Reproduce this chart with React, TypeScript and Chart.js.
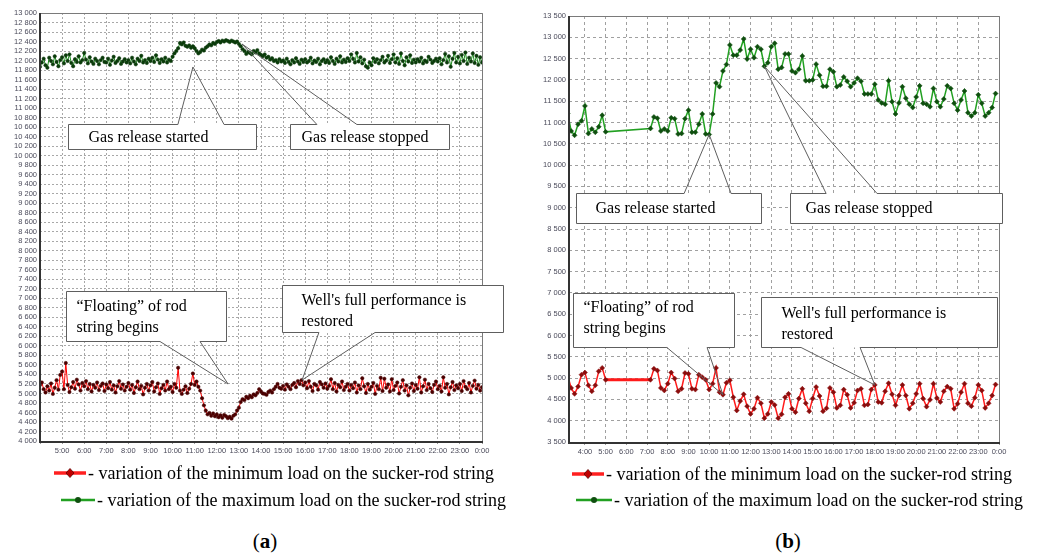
import React, { useEffect, useRef } from 'react';
import { Chart, registerables } from 'chart.js';

Chart.register(...registerables);

// ---------- Panel (a): samples every 5 minutes, 4:00 – 24:00 ----------
const A_START_HOUR = 4;
const A_STEP_MIN = 5;

const A_MAX_LOAD = [
  11870, 11960, 12040, 11900, 11850, 12060, 11990, 11920, 12090, 11970, 11880, 12010,
  12070, 11940, 12110, 11990, 12130, 11950, 11880, 12030, 11970, 12090, 11960, 12010,
  12160, 12020, 11940, 12070, 11980, 11930, 12040, 11990, 11920, 12010, 12060, 11970,
  11960, 12040, 11910, 12000, 12080, 11950, 11990, 12050, 11930, 11980, 12030, 11960,
  12010, 11940, 12060, 11980, 11920, 12040, 11990, 12100, 11960, 12010, 11950, 12040,
  11990, 12060, 11970, 12110, 12020, 11950, 12030, 11980, 12060, 11960, 12020, 11990,
  12080, 12150, 12200, 12260, 12370, 12340, 12380, 12310, 12290, 12320, 12270, 12300,
  12260, 12200, 12150, 12180, 12230, 12210, 12270, 12300, 12340, 12320, 12370, 12350,
  12390, 12410, 12380, 12420, 12400, 12430, 12410, 12390, 12420, 12400, 12380, 12400,
  12350, 12300, 12240, 12200, 12140, 12180, 12160, 12130, 12200, 12170, 12220, 12150,
  12120, 12090, 12130, 12060, 12080, 12020, 12050, 11990, 12010, 11960, 12030, 11980,
  12000, 11950, 12040, 11970, 11920, 12010, 11960, 12050, 11980, 11930, 12020, 11970,
  12030, 11960, 11990, 12060, 11940, 12000, 11970, 12040, 11920, 11990, 12030, 11960,
  12010, 11950, 12070, 11990, 11930, 12040, 11980, 12090, 11960, 12020, 11970, 12050,
  11990, 12130, 12040, 11960, 12160, 11980, 12070, 11940, 12020, 11880, 11850, 11960,
  11900, 12050, 11970, 12030, 11940, 12010, 12080, 11960, 12000, 12100, 11950, 12030,
  12130, 11960, 12050, 11930, 12150, 11990, 11900, 12070, 11980, 12110, 11950, 12020,
  11960, 12030, 11980, 12060, 11940, 12000, 11970, 12080, 12020, 11950, 11990, 12040,
  11980, 12050, 11920, 12010, 12140, 11960, 12090, 11870, 12040, 12160, 11960, 12080,
  11940, 12120, 11990, 12170, 11930, 12060, 11980, 12150, 11950, 12100, 11910, 12070,
  11960,
];

const A_MIN_LOAD = [
  5180, 5230, 5090, 5020, 5150, 5060, 5210, 4990, 5120, 5280, 5080, 5390,
  5460, 5090, 5640, 5180, 5030, 5130, 5240, 5100, 5290, 5190, 5060, 5220,
  5150, 5260, 5090, 5200, 5040, 5180, 5120, 5230, 5070, 5160, 5210, 5050,
  5190, 5110, 5240, 5080, 5170, 5020, 5150, 5260, 5100, 5190, 5060, 5140,
  5220, 5080, 5180, 5010, 5130, 5250, 5090, 5160, 4980, 5120, 5200, 5060,
  5170, 5240, 5040, 5130, 5210, 4990, 5110, 5180, 5060, 5250, 5090, 5140,
  5030, 5200, 5120, 5540, 5060, 4990, 5080, 5150, 5010, 5100, 5200, 5420,
  5180, 5250, 5140, 5060, 4900, 4750, 4640, 4560, 4590, 4530, 4580, 4520,
  4560, 4500, 4540, 4490, 4550, 4520, 4480, 4510, 4470, 4530, 4560, 4640,
  4700, 4820, 4880, 4860, 4930, 4900, 4950, 4920, 4980, 4960, 5010, 5090,
  5040, 5000, 4990, 4970, 5030, 5060, 5020, 5090, 5140, 5200, 5120, 5100,
  5160, 5080, 5190, 5140, 5090, 5180, 5220, 5130, 5260, 5200, 5280, 5170,
  5230, 5110, 5260, 5140, 5050, 5200, 5170, 5080, 5240, 5190, 5120, 5210,
  5100, 5160, 5300, 5090, 5220, 5040, 5180, 5130, 5250, 5070, 5140, 5200,
  5060, 5180, 5110, 5230, 5020, 5170, 5090, 5320, 5150, 5010, 5200, 5080,
  5140, 5220, 4990, 5160, 5090, 5330, 5050, 5310, 5120, 5190, 5040, 5300,
  5070, 5160, 5230, 5000, 5140, 5280, 5060, 5170, 4960, 5120, 5210, 5050,
  5180, 5100, 5340, 5020, 5150, 5290, 5070, 5200, 5110, 5030, 5180, 5250,
  5090, 5160, 5040, 5340, 5120, 5200, 4980, 5130, 5240, 5070, 5170, 5110,
  5200, 5050, 5260, 5140, 5090, 5220, 5020, 5160, 5270, 5100, 5180, 5060,
  5130,
];

const A_X_TICKS = [4, 5, 6, 7, 8, 9, 10, 11, 12, 13, 14, 15, 16, 17, 18, 19, 20, 21, 22, 23, 24];
const A_Y_TICKS = [
  4000, 4200, 4400, 4600, 4800, 5000, 5200, 5400, 5600, 5800, 6000, 6200, 6400, 6600, 6800,
  7000, 7200, 7400, 7600, 7800, 8000, 8200, 8400, 8600, 8800, 9000, 9200, 9400, 9600, 9800,
  10000, 10200, 10400, 10600, 10800, 11000, 11200, 11400, 11600, 11800, 12000, 12200, 12400,
  12600, 12800, 13000,
];

// ---------- Panel (b): samples every 10 minutes, two recording segments ----------
const B_STEP_MIN = 10;
const B_SEGMENTS = [
  { startHour: 3 + 10 / 60, count: 12 },
  { startHour: 7 + 10 / 60, count: 101 },
];

const B_MAX_LOAD = [
  11210, 10800, 10700, 10960, 11040, 11390, 10740, 10850, 10770, 10900, 11170, 10780,
  10860, 11130, 11100, 10800, 10850, 10800, 11110, 11090, 10730, 10740,
  11090, 11290, 10770, 10770, 10960, 11200, 10730, 10720, 11200, 11930,
  11840, 12210, 12360, 12820, 12580, 12580, 12700, 12960, 12490, 12720,
  12520, 12780, 12720, 12320, 12400, 12780, 12860, 12250, 12290, 12610,
  12610, 12210, 12170, 12250, 12560, 11980, 11980, 12000, 12370, 12110,
  11850, 11850, 12250, 12190, 11840, 11880, 12070, 11970, 11840, 11930,
  12040, 11970, 11670, 11670, 11670, 11900, 11530, 11460, 11430, 11980,
  11490, 11200, 11460, 11840, 11570, 11430, 11350, 11600, 11860, 11450,
  11430, 11370, 11800, 11490, 11370, 11550, 11860, 11800, 11450, 11290,
  11530, 11740, 11230, 11150, 11230, 11650, 11450, 11150, 11230, 11350,
  11680,
];

const B_MIN_LOAD = [
  5060, 4770, 4630, 4800, 5080, 5130, 4830, 4690, 4830, 5160, 5240, 4960,
  4960, 5220, 5180, 4770, 4710, 4870, 5130, 4990, 4690, 4750,
  5120, 5100, 4750, 4730, 5080, 5020, 4960, 4730, 4870, 5240,
  4670, 4610, 4890, 4950, 4550, 4240, 4460, 4620, 4340, 4160,
  4280, 4540, 4410, 4060, 4160, 4440, 4370, 4060, 4150, 4550,
  4630, 4280, 4200, 4520, 4750, 4410, 4220, 4520, 4790, 4580,
  4220, 4290, 4770, 4670, 4300, 4360, 4730, 4610, 4300, 4420,
  4710, 4750, 4360, 4380, 4730, 4840, 4440, 4420, 4690, 4880,
  4620, 4360, 4590, 4840, 4590, 4280, 4410, 4630, 4870, 4520,
  4330, 4490, 4870, 4530, 4440, 4690, 4800, 4750, 4280, 4400,
  4670, 4870, 4410, 4340, 4540, 4840, 4710, 4300, 4410, 4590, 4850,
];

const B_X_TICKS = [4, 5, 6, 7, 8, 9, 10, 11, 12, 13, 14, 15, 16, 17, 18, 19, 20, 21, 22, 23, 24];
const B_Y_TICKS = [
  3500, 4000, 4500, 5000, 5500, 6000, 6500, 7000, 7500, 8000, 8500, 9000, 9500, 10000,
  10500, 11000, 11500, 12000, 12500, 13000, 13500,
];

// ---------- Call-outs (anchored in data units: hours / load) ----------
type Callout = {
  lines: string[];
  box: [number, number, number, number]; // x0, x1 (hours), yTop, yBottom (load)
  side: 'top' | 'bottom';
  base: [number, number]; // pointer base on the box edge (hours)
  tip: [number, number]; // pointer tip (hour, load)
  padX: number;
  lineY: number[];
};

const A_CALLOUTS: Callout[] = [
  { lines: ['Gas release started'], box: [5.27, 13.77, 10667, 10141], side: 'top', base: [10.24, 12.33], tip: [10.92, 11865], padX: 20, lineY: [13] },
  { lines: ['Gas release stopped'], box: [15.31, 22.51, 10667, 10141], side: 'top', base: [16.53, 18.34], tip: [13.14, 12349], padX: 11, lineY: [13] },
  { lines: ['\u201CFloating\u201D of rod', 'string begins'], box: [5.18, 12.42, 7155, 6103], side: 'bottom', base: [9.43, 11.24], tip: [12.51, 5199], padX: 10, lineY: [15, 36] },
  { lines: ["Well's full performance is", 'restored'], box: [14.95, 24.95, 7281, 6292], side: 'bottom', base: [16.62, 19.16], tip: [15.86, 5283], padX: 19, lineY: [15, 36] },
];

const B_CALLOUTS: Callout[] = [
  { lines: ['Gas release started'], box: [3.57, 12.5, 9340, 8635], side: 'top', base: [8.79, 11.06], tip: [10.0, 10720], padX: 19, lineY: [15] },
  { lines: ['Gas release stopped'], box: [13.91, 24.15, 9340, 8635], side: 'top', base: [15.65, 18.11], tip: [12.667, 12320], padX: 15, lineY: [15] },
  { lines: ['\u201CFloating\u201D of rod', 'string begins'], box: [3.42, 11.2, 6990, 5721], side: 'bottom', base: [7.96, 9.9], tip: [10.667, 4610], padX: 10, lineY: [14, 35] },
  { lines: ["Well's full performance is", 'restored'], box: [12.5, 23.9, 6896, 5721], side: 'bottom', base: [14.44, 17.29], tip: [18.0, 4840], padX: 20, lineY: [16, 37] },
];

// ---------- helpers ----------
const fmtThousands = (v: number) => `${Math.floor(v / 1000)} ${String(v % 1000).padStart(3, '0')}`;
const fmtHour = (v: number) => `${Math.round(v) % 24}:00`;

const A_TIMES = A_MAX_LOAD.map((_, i) => A_START_HOUR + (i * A_STEP_MIN) / 60);
const B_TIMES = B_SEGMENTS.flatMap((s) => Array.from({ length: s.count }, (_, i) => s.startHour + (i * B_STEP_MIN) / 60));

const framePlugin = {
  id: 'frame',
  afterDatasetsDraw(chart: any) {
    const { ctx, chartArea: a } = chart;
    ctx.save();
    ctx.strokeStyle = '#7a7a7a';
    ctx.lineWidth = 1;
    ctx.beginPath();
    ctx.moveTo(a.left, a.top + 0.5);
    ctx.lineTo(a.right + 0.5, a.top + 0.5);
    ctx.lineTo(a.right + 0.5, a.bottom);
    ctx.stroke();
    ctx.strokeStyle = '#333';
    ctx.lineWidth = 2;
    ctx.beginPath();
    ctx.moveTo(a.left, a.top);
    ctx.lineTo(a.left, a.bottom + 1);
    ctx.lineTo(a.right + 1, a.bottom + 1);
    ctx.stroke();
    ctx.restore();
  },
};

const makeCalloutPlugin = (callouts: Callout[]) => ({
  id: 'callouts',
  afterDraw(chart: any) {
    const { ctx } = chart;
    const xs = chart.scales.x;
    const ys = chart.scales.y;
    ctx.save();
    for (const c of callouts) {
      const x0 = Math.round(xs.getPixelForValue(c.box[0])) + 0.5;
      const x1 = Math.round(xs.getPixelForValue(c.box[1])) + 0.5;
      const yT = Math.round(ys.getPixelForValue(c.box[2])) + 0.5;
      const yB = Math.round(ys.getPixelForValue(c.box[3])) + 0.5;
      const b1 = xs.getPixelForValue(c.base[0]);
      const b2 = xs.getPixelForValue(c.base[1]);
      const tx = xs.getPixelForValue(c.tip[0]);
      const ty = ys.getPixelForValue(c.tip[1]);
      ctx.fillStyle = '#ffffff';
      ctx.fillRect(x0, yT, x1 - x0, yB - yT);
      ctx.beginPath();
      if (c.side === 'top') {
        ctx.moveTo(x0, yT);
        ctx.lineTo(b1, yT);
        ctx.lineTo(tx, ty);
        ctx.lineTo(b2, yT);
        ctx.lineTo(x1, yT);
        ctx.lineTo(x1, yB);
        ctx.lineTo(x0, yB);
      } else {
        ctx.moveTo(x0, yT);
        ctx.lineTo(x1, yT);
        ctx.lineTo(x1, yB);
        ctx.lineTo(b2, yB);
        ctx.lineTo(tx, ty);
        ctx.lineTo(b1, yB);
        ctx.lineTo(x0, yB);
      }
      ctx.closePath();
      ctx.strokeStyle = '#5e5e5e';
      ctx.lineWidth = 1;
      ctx.stroke();
      ctx.fillStyle = '#000';
      ctx.font = '16px "Liberation Serif"';
      ctx.textAlign = 'left';
      ctx.textBaseline = 'middle';
      c.lines.forEach((ln, i) => ctx.fillText(ln, x0 + c.padX, yT + c.lineY[i]));
    }
    ctx.restore();
  },
});

function buildConfig(p: {
  times: number[];
  minLoad: number[];
  maxLoad: number[];
  xMin: number;
  xMax: number;
  xTicks: number[];
  yTicks: number[];
  yAxisWidth: number;
  xAxisHeight: number;
  padRight: number;
  padTop: number;
  hideFirstX: boolean;
  lineWidth: number;
  pointRadius: number;
  pointStyle: string;
  red: string;
  redPt: string;
  green: string;
  greenPt: string;
  gridColor: string;
  dash: number[];
  callouts: Callout[];
  thickGap: boolean;
}): any {
  const toXY = (arr: number[]) => arr.map((v, i) => ({ x: p.times[i], y: v }));
  const tickFont = { family: '"Liberation Sans", Arial, sans-serif', size: 7.5 };
  return {
    type: 'line',
    data: {
      datasets: [
        {
          label: 'maximum load',
          data: toXY(p.maxLoad),
          borderColor: p.green,
          borderWidth: p.lineWidth,
          pointRadius: p.pointRadius,
          pointStyle: p.pointStyle,
          pointBackgroundColor: p.greenPt,
          pointBorderColor: p.greenPt,
          pointBorderWidth: 0.5,
          tension: 0,
        },
        {
          label: 'minimum load',
          data: toXY(p.minLoad),
          borderColor: p.red,
          borderWidth: p.lineWidth,
          pointRadius: p.pointRadius,
          pointStyle: p.pointStyle,
          pointBackgroundColor: p.redPt,
          pointBorderColor: p.redPt,
          pointBorderWidth: 0.5,
          tension: 0,
          segment: p.thickGap
            ? { borderWidth: (ctx: any) => (ctx.p1.parsed.x - ctx.p0.parsed.x > 1 ? 3 : p.lineWidth) }
            : undefined,
        },
      ],
    },
    options: {
      animation: false,
      responsive: false,
      maintainAspectRatio: false,
      layout: { padding: { left: 0, right: p.padRight, top: p.padTop, bottom: 0 } },
      plugins: { legend: { display: false }, tooltip: { enabled: false } },
      scales: {
        x: {
          type: 'linear',
          min: p.xMin,
          max: p.xMax,
          afterBuildTicks: (s: any) => {
            s.ticks = p.xTicks.map((v) => ({ value: v }));
          },
          afterFit: (s: any) => {
            s.height = p.xAxisHeight;
          },
          ticks: {
            autoSkip: false,
            maxRotation: 0,
            font: tickFont,
            color: '#4a4a5a',
            padding: 2,
            callback: (v: number) => (p.hideFirstX && v === p.xTicks[0] ? '' : fmtHour(v)),
          },
          grid: { color: p.gridColor, lineWidth: 1, tickLength: 3, tickColor: '#999' },
          border: { display: false, dash: p.dash },
        },
        y: {
          type: 'linear',
          min: p.yTicks[0],
          max: p.yTicks[p.yTicks.length - 1],
          afterBuildTicks: (s: any) => {
            s.ticks = p.yTicks.map((v) => ({ value: v }));
          },
          afterFit: (s: any) => {
            s.width = p.yAxisWidth;
          },
          ticks: {
            autoSkip: false,
            font: tickFont,
            color: '#4a4a5a',
            padding: 3,
            callback: (v: number) => fmtThousands(v),
          },
          grid: { color: p.gridColor, lineWidth: 1, drawTicks: false },
          border: { display: false, dash: p.dash },
        },
      },
    },
    plugins: [framePlugin, makeCalloutPlugin(p.callouts)],
  };
}

const LegendMarker = ({ color, pt, thick, left, top, width, diamond }: any) => (
  <svg
    width={width}
    height={12}
    style={{ position: 'absolute', left, top: top - 6 }}
  >
    <line x1={0} y1={6} x2={width} y2={6} stroke={color} strokeWidth={thick} />
    {diamond ? (
      <polygon
        points={`${width / 2},1.5 ${width / 2 + 4},6 ${width / 2},10.5 ${width / 2 - 4},6`}
        fill={pt}
        stroke="#5a0000"
        strokeWidth={0.8}
      />
    ) : (
      <circle cx={width / 2} cy={6} r={3} fill={pt} />
    )}
  </svg>
);

const textStyle = (left: number, top: number): React.CSSProperties => ({
  position: 'absolute',
  left,
  top: top - 12,
  fontFamily: '"Liberation Serif", "Times New Roman", serif',
  fontSize: 18,
  lineHeight: '24px',
  whiteSpace: 'nowrap',
  color: '#000',
});

export default function App() {
  const refA = useRef<HTMLCanvasElement>(null);
  const refB = useRef<HTMLCanvasElement>(null);

  useEffect(() => {
    const chartA = new Chart(
      refA.current as HTMLCanvasElement,
      buildConfig({
        times: A_TIMES,
        minLoad: A_MIN_LOAD,
        maxLoad: A_MAX_LOAD,
        xMin: 4,
        xMax: 24,
        xTicks: A_X_TICKS,
        yTicks: A_Y_TICKS,
        yAxisWidth: 40,
        xAxisHeight: 24,
        padRight: 38,
        padTop: 13,
        hideFirstX: true,
        lineWidth: 1,
        pointRadius: 1.7,
        pointStyle: 'circle',
        red: '#ff0000',
        redPt: '#4a0000',
        green: '#1a8a1a',
        greenPt: '#0b3b0b',
        gridColor: '#a8a8a8',
        dash: [2, 2],
        callouts: A_CALLOUTS,
        thickGap: false,
      })
    );
    const chartB = new Chart(
      refB.current as HTMLCanvasElement,
      buildConfig({
        times: B_TIMES,
        minLoad: B_MIN_LOAD,
        maxLoad: B_MAX_LOAD,
        xMin: 3.23,
        xMax: 24,
        xTicks: B_X_TICKS,
        yTicks: B_Y_TICKS,
        yAxisWidth: 49,
        xAxisHeight: 23,
        padRight: 48,
        padTop: 16,
        hideFirstX: false,
        lineWidth: 1.5,
        pointRadius: 2.5,
        pointStyle: 'rectRot',
        red: '#ff1a1a',
        redPt: '#8a0d0d',
        green: '#22a022',
        greenPt: '#0f4f0f',
        gridColor: '#a0a0a0',
        dash: [3, 3],
        callouts: B_CALLOUTS,
        thickGap: true,
      })
    );
    return () => {
      chartA.destroy();
      chartB.destroy();
    };
  }, []);

  return (
    <div
      style={{
        position: 'fixed',
        left: 0,
        top: 0,
        width: 1047,
        height: 557,
        background: '#fff',
        overflow: 'hidden',
      }}
    >
      <canvas ref={refA} width={520} height={465} style={{ position: 'absolute', left: 0, top: 0, width: 520, height: 465 }} />
      <canvas ref={refB} width={527} height={465} style={{ position: 'absolute', left: 520, top: 0, width: 527, height: 465 }} />

      <LegendMarker color="#ff2020" pt="#c00000" thick={3.5} left={54} top={473} width={32} diamond />
      <div style={textStyle(88, 473)}>- variation of the minimum load on the sucker-rod string</div>
      <LegendMarker color="#22a022" pt="#0f4f0f" thick={2.5} left={61} top={500} width={34} />
      <div style={textStyle(97, 500)}>- variation of the maximum load on the sucker-rod string</div>

      <LegendMarker color="#ff2020" pt="#c00000" thick={3.5} left={572} top={474} width={32} diamond />
      <div style={textStyle(606, 474)}>- variation of the minimum load on the sucker-rod string</div>
      <LegendMarker color="#22a022" pt="#0f4f0f" thick={2.5} left={576} top={500} width={36} />
      <div style={textStyle(614, 500)}>- variation of the maximum load on the sucker-rod string</div>

      <div
        style={{
          position: 'absolute',
          left: 225,
          width: 80,
          top: 528,
          textAlign: 'center',
          fontFamily: '"Liberation Serif", serif',
          fontSize: 21,
          lineHeight: '26px',
        }}
      >
        (<b>a</b>)
      </div>
      <div
        style={{
          position: 'absolute',
          left: 748,
          width: 80,
          top: 528,
          textAlign: 'center',
          fontFamily: '"Liberation Serif", serif',
          fontSize: 21,
          lineHeight: '26px',
        }}
      >
        (<b>b</b>)
      </div>
    </div>
  );
}
